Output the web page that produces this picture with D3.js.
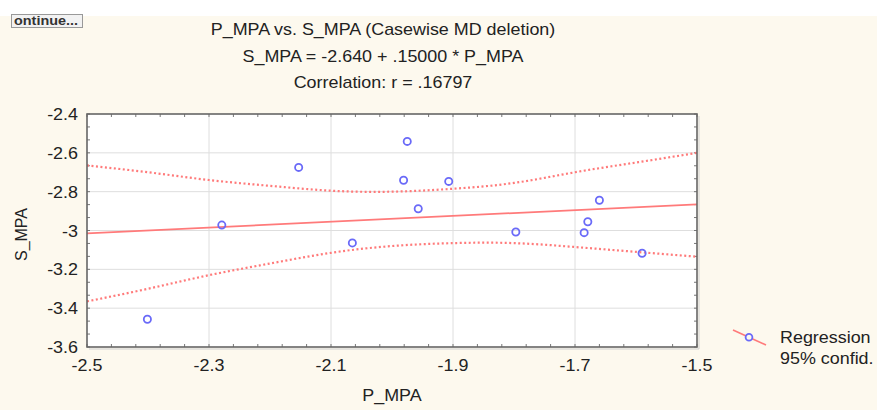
<!DOCTYPE html>
<html>
<head>
<meta charset="utf-8">
<script src="https://cdn.jsdelivr.net/npm/d3@7"></script>
<style>
  body { margin: 0; background: #ffffff; }
  text { font-family: "Liberation Sans", Arial, sans-serif; fill: #222; }
</style>
</head>
<body>
<div id="chartDiv"></div>
<script>
// chart size
var width = 877;
var height = 410;
var margin = { top: 114, right: 180, bottom: 63, left: 87 };

// data
var pMPA = [-2.401, -2.279, -2.153, -2.065, -1.975, -1.981, -1.907, -1.957, -1.797, -1.660, -1.679, -1.685, -1.590];
var sMPA = [-3.457, -2.972, -2.675, -3.064, -2.541, -2.741, -2.747, -2.888, -3.008, -2.844, -2.955, -3.011, -3.117];

// regression from the title
var intercept = -2.640;
var slope = 0.15;

// 95% confidence band, read at 0.1 steps
var bandX     = [-2.5, -2.4, -2.3, -2.2, -2.1, -2.0, -1.9, -1.8, -1.7, -1.6, -1.5];
var bandUpper = [-2.665, -2.70, -2.74, -2.77, -2.795, -2.80, -2.785, -2.755, -2.70, -2.65, -2.60];
var bandLower = [-3.365, -3.30, -3.23, -3.17, -3.115, -3.08, -3.065, -3.065, -3.085, -3.11, -3.135];

var xTicks = [-2.5, -2.3, -2.1, -1.9, -1.7, -1.5];
var yTicks = [-2.4, -2.6, -2.8, -3, -3.2, -3.4, -3.6];

var titleLines = ["P_MPA vs. S_MPA (Casewise MD deletion)", "S_MPA = -2.640 + .15000 * P_MPA", "Correlation: r = .16797"];
var xAxisLabelHeader = "P_MPA";
var yAxisLabelHeader = "S_MPA";
var legendLabels = ["Regression", "95% confid."];

var red = "#ff7a7a";
var blue = "#6a6af8";
var cream = "#fdf9ee";
var stretch = 1.12;   // the screenshot text is a bit wide

var chartWidth = width - margin.left - margin.right;
var chartHeight = height - margin.top - margin.bottom;

// plain hyphen instead of d3's unicode minus
function fmt(d) { return String(d); }

// text drawn with a small horizontal stretch
function wideText(parent, x, y, str, anchor, size) {
  return parent.append("text")
    .attr("transform", "translate(" + x + "," + y + ") scale(" + stretch + ",1)")
    .attr("text-anchor", anchor)
    .style("font-size", size + "px")
    .text(str);
}

var svg = d3.select("#chartDiv").append("svg")
  .attr("width", width)
  .attr("height", height);

// cream background
svg.append("rect")
  .attr("x", 0).attr("y", 16)
  .attr("width", width).attr("height", height - 16)
  .attr("fill", cream);

// truncated button in the corner
svg.append("rect")
  .attr("x", 11.5).attr("y", 14.5)
  .attr("width", 71).attr("height", 13)
  .attr("fill", "#f2f2f2")
  .attr("stroke", "#999");
svg.append("text")
  .attr("transform", "translate(14,25) scale(1.2,1)")
  .style("font-size", "12px")
  .style("font-weight", "bold")
  .style("fill", "#333")
  .text("ontinue...");

// titles
titleLines.forEach(function(t, i) {
  wideText(svg, 383, 35 + i * 26.5, t, "middle", 16);
});

var xScale = d3.scaleLinear().domain([-2.5, -1.5]).range([0, chartWidth]);
var yScale = d3.scaleLinear().domain([-3.6, -2.4]).range([chartHeight, 0]);

var plot = svg.append("g")
  .attr("transform", "translate(" + margin.left + "," + margin.top + ")");

plot.append("rect")
  .attr("width", chartWidth).attr("height", chartHeight)
  .attr("fill", "#ffffff");

// grid
plot.selectAll(".vgrid")
  .data(xTicks.slice(1, -1))
  .enter().append("line")
  .attr("x1", function(d) { return xScale(d); })
  .attr("x2", function(d) { return xScale(d); })
  .attr("y1", 0).attr("y2", chartHeight)
  .attr("stroke", "#dedede");

plot.selectAll(".hgrid")
  .data(yTicks.slice(1, -1))
  .enter().append("line")
  .attr("y1", function(d) { return yScale(d); })
  .attr("y2", function(d) { return yScale(d); })
  .attr("x1", 0).attr("x2", chartWidth)
  .attr("stroke", "#dedede");

// minor ticks inside the frame
var xMinor = d3.range(26).map(function(i) { return -2.5 + i * 0.04; });
var yMinor = d3.range(19).map(function(i) { return -3.6 + i * 0.2 / 3; });

var tickGroup = plot.append("g").attr("stroke", "#777").attr("stroke-width", 1);
xMinor.forEach(function(v) {
  tickGroup.append("line").attr("x1", xScale(v)).attr("x2", xScale(v)).attr("y1", 0).attr("y2", 3);
  tickGroup.append("line").attr("x1", xScale(v)).attr("x2", xScale(v)).attr("y1", chartHeight).attr("y2", chartHeight - 3);
});
yMinor.forEach(function(v) {
  tickGroup.append("line").attr("y1", yScale(v)).attr("y2", yScale(v)).attr("x1", 0).attr("x2", 3);
  tickGroup.append("line").attr("y1", yScale(v)).attr("y2", yScale(v)).attr("x1", chartWidth).attr("x2", chartWidth - 3);
});

// confidence band
var bandLine = d3.line()
  .curve(d3.curveNatural)
  .x(function(d) { return xScale(d[0]); })
  .y(function(d) { return yScale(d[1]); });

[bandUpper, bandLower].forEach(function(band) {
  plot.append("path")
    .datum(bandX.map(function(x, i) { return [x, band[i]]; }))
    .attr("d", bandLine)
    .attr("fill", "none")
    .attr("stroke", red)
    .attr("stroke-width", 2.2)
    .attr("stroke-dasharray", "2,2.5");
});

// regression line
plot.append("line")
  .attr("x1", xScale(-2.5)).attr("y1", yScale(intercept + slope * -2.5))
  .attr("x2", xScale(-1.5)).attr("y2", yScale(intercept + slope * -1.5))
  .attr("stroke", red)
  .attr("stroke-width", 1.8);

// points
plot.selectAll(".dot")
  .data(pMPA)
  .enter().append("circle")
  .attr("class", "dot")
  .attr("cx", function(d) { return xScale(d); })
  .attr("cy", function(d, i) { return yScale(sMPA[i]); })
  .attr("r", 3.6)
  .attr("fill", "none")
  .attr("stroke", blue)
  .attr("stroke-width", 1.8);

// frame
plot.append("rect")
  .attr("width", chartWidth).attr("height", chartHeight)
  .attr("fill", "none")
  .attr("stroke", "#666")
  .attr("stroke-width", 1.6);
plot.append("path")
  .attr("d", "M" + (chartWidth + 2) + ",2V" + (chartHeight + 2) + "H2")
  .attr("fill", "none")
  .attr("stroke", "#cfcfcf");

// tick labels
xTicks.forEach(function(d) {
  wideText(svg, margin.left + xScale(d), margin.top + chartHeight + 24, fmt(d), "middle", 16);
});
yTicks.forEach(function(d) {
  wideText(svg, margin.left - 9, margin.top + yScale(d) + 6, fmt(d), "end", 16);
});

// axis titles
wideText(svg, margin.left + chartWidth / 2, 401, xAxisLabelHeader, "middle", 16);

svg.append("text")
  .attr("transform", "translate(27," + (margin.top + chartHeight / 2 + 4) + ") rotate(-90)")
  .attr("text-anchor", "middle")
  .style("font-size", "16px")
  .text(yAxisLabelHeader);

// legend
var legend = svg.append("g").attr("transform", "translate(733,330)");
legend.append("line")
  .attr("x1", 0).attr("y1", 0).attr("x2", 33).attr("y2", 15)
  .attr("stroke", red).attr("stroke-width", 1.6);
legend.append("circle")
  .attr("cx", 16).attr("cy", 7.3).attr("r", 3.4)
  .attr("fill", cream).attr("stroke", blue).attr("stroke-width", 1.8);
legendLabels.forEach(function(t, i) {
  wideText(legend, 47, 13 + i * 21, t, "start", 16);
});
</script>
</body>
</html>
